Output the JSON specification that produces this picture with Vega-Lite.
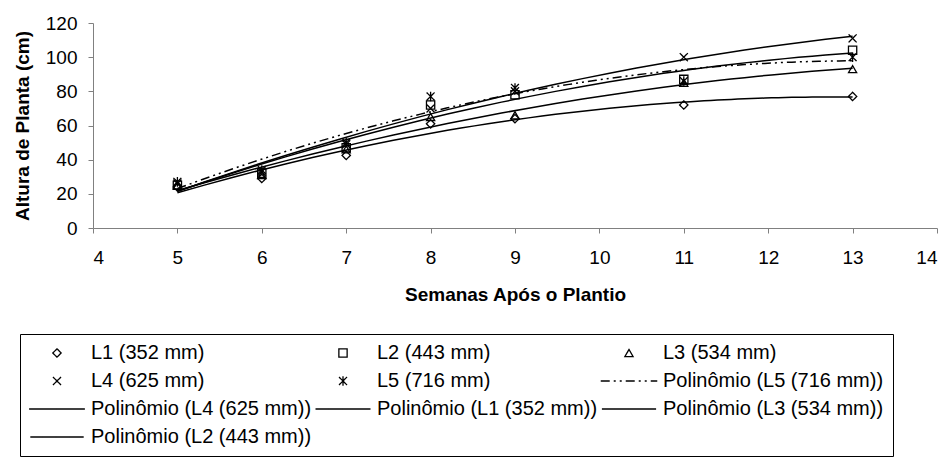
{
  "$schema": "https://vega.github.io/schema/vega-lite/v6.json",
  "width": 844,
  "height": 205,
  "autosize": "none",
  "padding": {"left": 93, "top": 23, "right": 15, "bottom": 240},
  "background": "white",
  "config": {
    "font": "Liberation Sans",
    "view": {"stroke": null},
    "axis": {
      "grid": false,
      "domainColor": "#808080",
      "tickColor": "#808080",
      "tickSize": 5,
      "labelFontSize": 19,
      "labelColor": "black",
      "labelFont": "Liberation Sans",
      "titleFont": "Liberation Sans",
      "titleFontSize": 19,
      "titleFontWeight": "bold",
      "titleColor": "black"
    }
  },
  "data": {
    "values": [
      {"serie": "L1 (352 mm)", "semana": 5, "altura": 24},
      {"serie": "L1 (352 mm)", "semana": 6, "altura": 29},
      {"serie": "L1 (352 mm)", "semana": 7, "altura": 42.5},
      {"serie": "L1 (352 mm)", "semana": 8, "altura": 61},
      {"serie": "L1 (352 mm)", "semana": 9, "altura": 64},
      {"serie": "L1 (352 mm)", "semana": 11, "altura": 72},
      {"serie": "L1 (352 mm)", "semana": 13, "altura": 77},
      {"serie": "L2 (443 mm)", "semana": 5, "altura": 25},
      {"serie": "L2 (443 mm)", "semana": 6, "altura": 32},
      {"serie": "L2 (443 mm)", "semana": 7, "altura": 47},
      {"serie": "L2 (443 mm)", "semana": 8, "altura": 72},
      {"serie": "L2 (443 mm)", "semana": 9, "altura": 78},
      {"serie": "L2 (443 mm)", "semana": 11, "altura": 87},
      {"serie": "L2 (443 mm)", "semana": 13, "altura": 104},
      {"serie": "L3 (534 mm)", "semana": 5, "altura": 25},
      {"serie": "L3 (534 mm)", "semana": 6, "altura": 31},
      {"serie": "L3 (534 mm)", "semana": 7, "altura": 46},
      {"serie": "L3 (534 mm)", "semana": 8, "altura": 65},
      {"serie": "L3 (534 mm)", "semana": 9, "altura": 66},
      {"serie": "L3 (534 mm)", "semana": 11, "altura": 85},
      {"serie": "L3 (534 mm)", "semana": 13, "altura": 93},
      {"serie": "L4 (625 mm)", "semana": 5, "altura": 26},
      {"serie": "L4 (625 mm)", "semana": 6, "altura": 33},
      {"serie": "L4 (625 mm)", "semana": 7, "altura": 49},
      {"serie": "L4 (625 mm)", "semana": 8, "altura": 70},
      {"serie": "L4 (625 mm)", "semana": 9, "altura": 80},
      {"serie": "L4 (625 mm)", "semana": 11, "altura": 100},
      {"serie": "L4 (625 mm)", "semana": 13, "altura": 111},
      {"serie": "L5 (716 mm)", "semana": 5, "altura": 27},
      {"serie": "L5 (716 mm)", "semana": 6, "altura": 34},
      {"serie": "L5 (716 mm)", "semana": 7, "altura": 50},
      {"serie": "L5 (716 mm)", "semana": 8, "altura": 77},
      {"serie": "L5 (716 mm)", "semana": 9, "altura": 82},
      {"serie": "L5 (716 mm)", "semana": 11, "altura": 86},
      {"serie": "L5 (716 mm)", "semana": 13, "altura": 100}
    ]
  },
  "encoding": {
    "x": {
      "field": "semana",
      "type": "quantitative",
      "scale": {"domain": [4, 14], "nice": false, "zero": false},
      "axis": {
        "title": "Semanas Após o Plantio",
        "values": [4, 5, 6, 7, 8, 9, 10, 11, 12, 13, 14],
        "labelPadding": 15,
        "titlePadding": 18
      }
    },
    "y": {
      "field": "altura",
      "type": "quantitative",
      "scale": {"domain": [0, 120], "nice": false},
      "axis": {
        "title": "Altura de Planta (cm)",
        "values": [0, 20, 40, 60, 80, 100, 120],
        "labelPadding": 11,
        "titlePadding": 13
      }
    }
  },
  "layer": [
    {
      "transform": [
        {"filter": "datum.serie != 'L5 (716 mm)'"},
        {"regression": "altura", "on": "semana", "groupby": ["serie"], "method": "poly", "order": 2}
      ],
      "mark": {"type": "line", "color": "black", "strokeWidth": 1.5},
      "encoding": {
        "detail": {"field": "serie", "type": "nominal"}
      }
    },
    {
      "transform": [
        {"filter": "datum.serie == 'L5 (716 mm)'"},
        {"regression": "altura", "on": "semana", "groupby": ["serie"], "method": "poly", "order": 2}
      ],
      "mark": {"type": "line", "color": "black", "strokeWidth": 1.5, "strokeDash": [9, 4, 2, 4, 2, 4]},
      "encoding": {
        "detail": {"field": "serie", "type": "nominal"}
      }
    },
    {
      "mark": {"type": "point", "filled": false, "color": "black", "strokeWidth": 1.3, "opacity": 1},
      "encoding": {
        "shape": {
          "field": "serie",
          "type": "nominal",
          "scale": {
            "domain": [
              "L1 (352 mm)", "L2 (443 mm)", "L3 (534 mm)",
              "L4 (625 mm)", "L5 (716 mm)", "Polinômio (L5 (716 mm))",
              "Polinômio (L4 (625 mm))", "Polinômio (L1 (352 mm))", "Polinômio (L3 (534 mm))",
              "Polinômio (L2 (443 mm))"
            ],
            "range": [
              "diamond", "square", "triangle-up",
              "M-1,-1L1,1M-1,1L1,-1", "M-1,-1L1,1M-1,1L1,-1M0,-1.2L0,1.2", "M-7.2,0H7.2",
              "M-7.2,0H7.2", "M-7.2,0H7.2", "M-7.2,0H7.2", "M-7.2,0H7.2"
            ]
          },
          "legend": {
            "title": null,
            "orient": "none",
            "direction": "horizontal",
            "legendX": -73,
            "legendY": 311,
            "columns": 3,
            "labelFontSize": 20,
            "labelFont": "Liberation Sans",
            "labelColor": "black",
            "labelLimit": 400,
            "labelOffset": 24,
            "symbolOffset": 18,
            "symbolStrokeColor": "black",
            "symbolFillColor": "transparent",
            "symbolStrokeWidth": 1.3,
            "strokeColor": "black",
            "fillColor": "white",
            "padding": 9,
            "rowPadding": 8,
            "columnPadding": 0,
            "symbolOpacity": 1
          }
        },
        "size": {
          "field": "serie",
          "type": "nominal",
          "scale": {
            "domain": [
              "L1 (352 mm)", "L2 (443 mm)", "L3 (534 mm)",
              "L4 (625 mm)", "L5 (716 mm)", "Polinômio (L5 (716 mm))",
              "Polinômio (L4 (625 mm))", "Polinômio (L1 (352 mm))", "Polinômio (L3 (534 mm))",
              "Polinômio (L2 (443 mm))"
            ],
            "range": [70, 55, 60, 60, 70, 240, 240, 240, 240, 240]
          }
        },
        "strokeDash": {
          "field": "serie",
          "type": "nominal",
          "scale": {
            "domain": [
              "L1 (352 mm)", "L2 (443 mm)", "L3 (534 mm)",
              "L4 (625 mm)", "L5 (716 mm)", "Polinômio (L5 (716 mm))",
              "Polinômio (L4 (625 mm))", "Polinômio (L1 (352 mm))", "Polinômio (L3 (534 mm))",
              "Polinômio (L2 (443 mm))"
            ],
            "range": [[1, 0], [1, 0], [1, 0], [1, 0], [1, 0], [9, 4, 2, 4, 2, 4], [1, 0], [1, 0], [1, 0], [1, 0]]
          }
        }
      }
    }
  ]
}
